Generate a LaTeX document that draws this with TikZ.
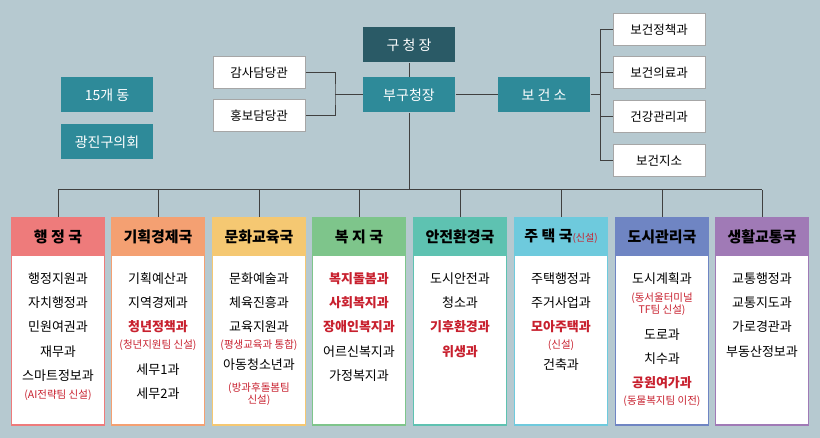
\documentclass[tikz,border=0pt]{standalone}
\usepackage{fontspec}
\setmainfont{Noto Sans CJK KR}
\usetikzlibrary{positioning}
\definecolor{bgc}{HTML}{B6C9D0}
\definecolor{dark}{HTML}{2A5A66}
\definecolor{teal}{HTML}{2E8A99}
\definecolor{redt}{HTML}{C8202E}
\definecolor{c1}{HTML}{EE7B7B}
\definecolor{c2}{HTML}{F4A072}
\definecolor{c3}{HTML}{F5C872}
\definecolor{c4}{HTML}{7EC58B}
\definecolor{c5}{HTML}{5EC2B1}
\definecolor{c6}{HTML}{6ECADD}
\definecolor{c7}{HTML}{6F85C3}
\definecolor{c8}{HTML}{A07AB6}
\begin{document}
\begin{tikzpicture}[x=1pt,y=-1pt,line width=1pt,
	top node/.style={fill=#1,text=white,minimum width=92pt,minimum height=35pt,font=\fontsize{14}{14}\selectfont},
	side node/.style={fill=white,draw=gray!70,minimum width=92pt,minimum height=32pt,font=\fontsize{12.5}{12.5}\selectfont},
	head node/.style={fill=#1,draw=#1,line width=1.5pt,minimum width=93pt,minimum height=37pt,font=\fontsize{15}{15}\selectfont\bfseries},
	body node/.style={fill=white,draw=#1,line width=1.5pt,minimum width=93pt,minimum height=207pt},
	item/.style={font=\fontsize{13}{13}\selectfont},
	hot/.style={item,text=redt,font=\fontsize{13}{13}\selectfont\bfseries},
	note/.style={text=redt,font=\fontsize{10.5}{12}\selectfont,align=center},
	line/.style={draw=black!75,line width=1pt}]
	\fill[bgc] (0,0) rectangle (820,438);
	\useasboundingbox (0,0) rectangle (820,438);
	
	% top
	\node[top node=dark] (gu) at (409,45) {구 청 장};
	\node[top node=teal] (bu) at (409,95) {부구청장};
	\node[top node=teal] (bo) at (544,95) {보 건 소};
	\node[top node=teal] (dong) at (107,95) {15개 동};
	\node[top node=teal] (hoe) at (107,142) {광진구의회};
	\node[side node] (gam) at (259,73) {감사담당관};
	\node[side node] (hong) at (259,116) {홍보담당관};
	\node[side node] (b1) at (659,30) {보건정책과};
	\node[side node] (b2) at (659,73) {보건의료과};
	\node[side node] (b3) at (659,117) {건강관리과};
	\node[side node] (b4) at (659,161) {보건지소};
	\coordinate (sj) at (335,95);
	\coordinate (bj) at (600,95);
	\coordinate (tj) at (409,190);
	\path[line] (gu) -- (bu) (bu) -- (tj);
	\path[line] (gam.east) -| (sj) |- (hong.east) (sj) -- (bu.west);
	\path[line] (bu) -- (bo) (bo) -- (bj);
	\foreach \b in {b1,b2,b3,b4} \path[line] (bj) |- (\b.west);
	
	% departments
	\foreach \x/\c/\t [count=\i] in {58/c1/행 정 국,158/c2/기획경제국,259/c3/문화교육국,359/c4/복 지 국,460/c5/안전환경국,561/c6/{주 택 국{\fontsize{10}{10}\selectfont\mdseries\color{redt}(신설)}},662/c7/도시관리국,762/c8/생활교통국}{
		\node[body node=\c] (d\i) at (\x,321.5) {};
		\node[head node=\c,anchor=north] (h\i) at (d\i.north) {\t};
		\path[line] (h\i.north) -- (\x,190);
	}
	\path[line] (58,190) -- (762,190);
	
	% 행정국
	\node[item] (a1) at (58,279) {행정지원과};
	\node[item] (a2) at (58,303) {자치행정과};
	\node[item] (a3) at (58,327) {민원여권과};
	\node[item] (a4) at (58,352) {재무과};
	\node[item] (a5) at (58,376) {스마트정보과};
	\node[note] (a6) at (58,395) {(AI전략팀 신설)};
	
	% 기획경제국
	\node[item] (k1) at (158,279) {기획예산과};
	\node[item] (k2) at (158,303) {지역경제과};
	\node[hot] (k3) at (158,327) {청년정책과};
	\node[note] (k4) at (158,345) {(청년지원팀 신설)};
	\node[item] (k5) at (158,370) {세무1과};
	\node[item] (k6) at (158,394) {세무2과};
	
	% 문화교육국
	\node[item] (m1) at (259,279) {문화예술과};
	\node[item] (m2) at (259,303) {체육진흥과};
	\node[item] (m3) at (259,327) {교육지원과};
	\node[note] (m4) at (259,345) {(평생교육과 통합)};
	\node[item] (m5) at (259,365) {아동청소년과};
	\node[note] (m6) at (259,394) {(방과후돌봄팀\\신설)};
	
	% 복지국
	\node[hot] (w1) at (359,279) {복지돌봄과};
	\node[hot] (w2) at (359,303) {사회복지과};
	\node[hot] (w3) at (359,327) {장애인복지과};
	\node[item] (w4) at (359,352) {어르신복지과};
	\node[item] (w5) at (359,376) {가정복지과};
	
	% 안전환경국
	\node[item] (s1) at (460,279) {도시안전과};
	\node[item] (s2) at (460,303) {청소과};
	\node[hot] (s3) at (460,327) {기후환경과};
	\node[hot] (s4) at (460,352) {위생과};
	
	% 주택국
	\node[item] (j1) at (561,279) {주택행정과};
	\node[item] (j2) at (561,303) {주거사업과};
	\node[hot] (j3) at (561,327) {모아주택과};
	\node[note] (j4) at (561,345) {(신설)};
	\node[item] (j5) at (561,365) {건축과};
	
	% 도시관리국
	\node[item] (u1) at (662,279) {도시계획과};
	\node[note] (u2) at (662,304) {(동서울터미널\\TF팀 신설)};
	\node[item] (u3) at (662,335) {도로과};
	\node[item] (u4) at (662,359) {치수과};
	\node[hot] (u5) at (662,383) {공원여가과};
	\node[note] (u6) at (662,401) {(동물복지팀 이전)};
	
	% 생활교통국
	\node[item] (t1) at (762,279) {교통행정과};
	\node[item] (t2) at (762,303) {교통지도과};
	\node[item] (t3) at (762,327) {가로경관과};
	\node[item] (t4) at (762,352) {부동산정보과};
\end{tikzpicture}
\end{document}
